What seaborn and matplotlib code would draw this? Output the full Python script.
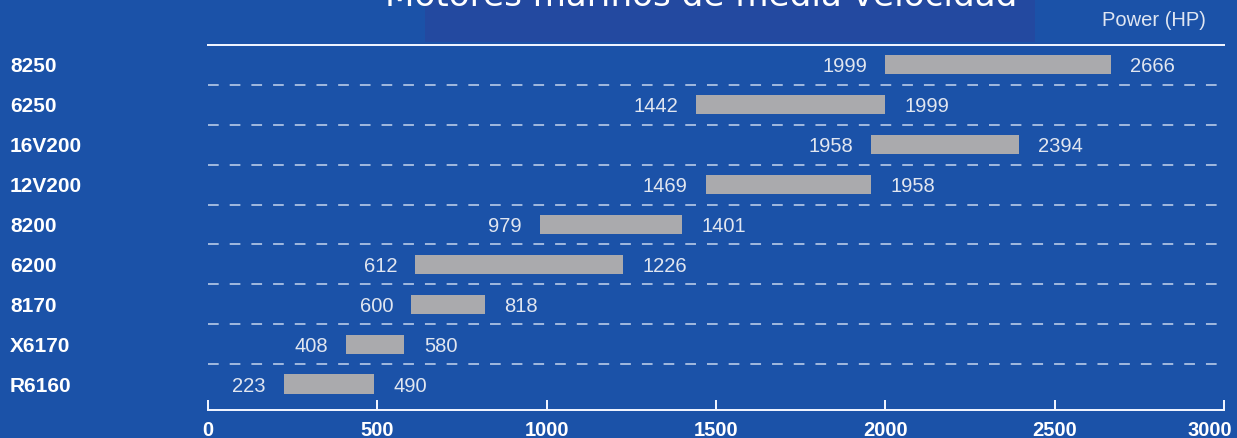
import numpy as np
import pandas as pd
import matplotlib
matplotlib.use("Agg")
import matplotlib.pyplot as plt
from matplotlib.patches import Rectangle
from matplotlib.transforms import ScaledTranslation
import seaborn as sns

# ---- data ----
engines = ["8250", "6250", "16V200", "12V200", "8200", "6200", "8170", "X6170", "R6160"]
power_min = [1999, 1442, 1958, 1469, 979, 612, 600, 408, 223]
power_max = [2666, 1999, 2394, 1958, 1401, 1226, 818, 580, 490]
x_ticks = [0, 500, 1000, 1500, 2000, 2500, 3000]
title = "Motores marinos de media velocidad"
unit_label = "Power (HP)"

df = pd.DataFrame({"engine": engines, "start": power_min, "end": power_max})
df["span"] = df["end"] - df["start"]

# ---- style ----
BG = "#1b52a8"
BAND = "#2349a0"
BAR = "#aaaaad"
LINE = "#eef3ff"
DASH = "#c5d5ee"
VAL = "#e1e6f0"

sns.set_style("white")
plt.rcParams["font.family"] = ["Liberation Sans", "DejaVu Sans"]

W, H = 1237, 438
fig = plt.figure(figsize=(W / 100, H / 100), dpi=100, facecolor=BG)

# title band
fig.patches.append(Rectangle((425 / W, 1 - 42 / H), 610 / W, 42 / H,
                             transform=fig.transFigure, facecolor=BAND,
                             edgecolor="none", zorder=0))
fig.text(385 / W, 1 - 6 / H, title, ha="left", va="baseline", fontsize=24.6,
         color="white", family=["DejaVu Sans"])
fig.text(1206 / W, 1 - 21 / H, unit_label, ha="right", va="center",
         fontsize=14.5, color="#dfe6f2")

ax = fig.add_axes([208 / W, 28 / H, 1016 / W, 365.5 / H])
ax.set_facecolor("none")

sns.barplot(data=df, x="span", y="engine", left=df["start"].to_numpy(),
            color=BAR, saturation=1, width=0.48, errorbar=None,
            linewidth=0, edgecolor="none", ax=ax, zorder=3)

# separators between rows
ax.hlines(np.arange(len(engines) - 1) + 0.5, 0, 3000, colors=DASH,
          linewidth=1.1, linestyles=(0, (7.0, 7.2)), zorder=2)

# value labels
for i, (s, e) in enumerate(zip(power_min, power_max)):
    ax.annotate(str(s), xy=(s, i), xytext=(-13, 0), textcoords="offset points",
                ha="right", va="center_baseline", fontsize=14.5, color=VAL)
    ax.annotate(str(e), xy=(e, i), xytext=(14, 0), textcoords="offset points",
                ha="left", va="center_baseline", fontsize=14.5, color=VAL)

ax.set_xlim(0, 3000)
ax.set_ylim(8.65, -0.51)
ax.set_xlabel("")
ax.set_ylabel("")

ax.set_xticks(x_ticks, labels=[str(t) for t in x_ticks])
ax.set_yticks(range(len(engines)), labels=engines)
ax.tick_params(axis="x", direction="in", length=7.2, width=1.44, color=LINE,
               pad=8, labelsize=14.5, labelcolor="white", bottom=True)
ax.tick_params(axis="y", length=0, pad=142.6, labelsize=15, labelcolor="white")
for lab in ax.get_xticklabels():
    lab.set_fontweight("bold")
last = ax.get_xticklabels()[-1]
last.set_horizontalalignment("right")
last.set_transform(last.get_transform() + ScaledTranslation(8 / 100, 0, fig.dpi_scale_trans))
for lab in ax.get_yticklabels():
    lab.set_fontweight("bold")
    lab.set_horizontalalignment("left")

for side in ("left", "right"):
    ax.spines[side].set_visible(False)
for side in ("top", "bottom"):
    ax.spines[side].set_visible(True)
    ax.spines[side].set_color(LINE)
    ax.spines[side].set_linewidth(1.44)

fig.savefig("out.png", dpi=100, facecolor=BG)
